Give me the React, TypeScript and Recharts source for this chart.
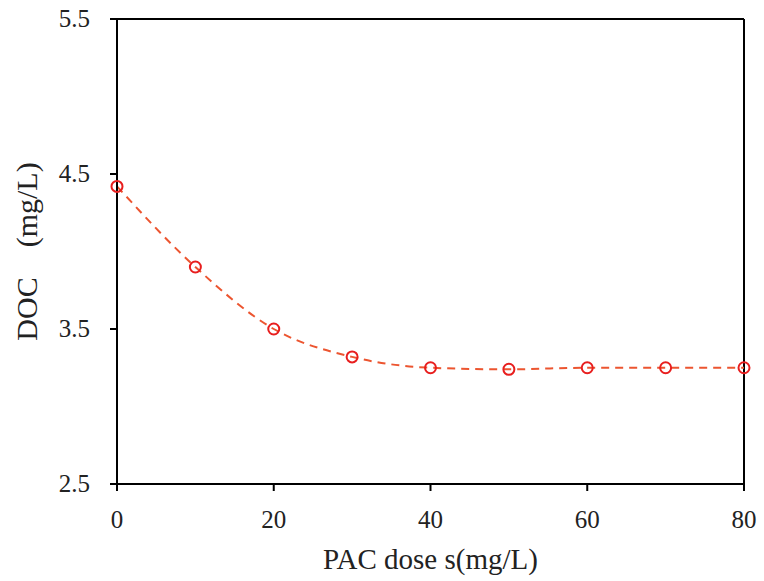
import React from 'react';
import { LineChart, Line, XAxis, YAxis, ReferenceLine } from 'recharts';

const doses = [0, 10, 20, 30, 40, 50, 60, 70, 80];
const docValues = [4.42, 3.9, 3.5, 3.32, 3.25, 3.24, 3.25, 3.25, 3.25];
const xTicks = [0, 20, 40, 60, 80];
const yTicks = [2.5, 3.5, 4.5, 5.5];

const data = doses.map((d, i) => ({ dose: d, doc: docValues[i] }));

const font = '"Liberation Serif", "Times New Roman", serif';
const axisStroke = { stroke: '#000', strokeWidth: 2 };

const XTick = (props: any) => (
  <text
    x={props.x}
    y={props.y}
    dy={37}
    textAnchor="middle"
    fontSize={25}
    fontFamily={font}
    fill="#222"
  >
    {props.payload.value}
  </text>
);

const YTick = (props: any) => (
  <text
    x={props.x}
    y={props.y}
    dx={-20}
    dy={8}
    textAnchor="end"
    fontSize={25}
    fontFamily={font}
    fill="#222"
  >
    {Number(props.payload.value).toFixed(1)}
  </text>
);

const YLabel = (props: any) => {
  const vb = props.viewBox;
  const cx = vb.x - 31;
  const cy = vb.y + vb.height / 2;
  return (
    <text
      x={cx}
      y={cy}
      transform={`rotate(-90, ${cx}, ${cy})`}
      textAnchor="middle"
      dominantBaseline="central"
      fontSize={30}
      fontFamily={font}
      fill="#222"
    >
      {'DOC\u2003(mg/L)'}
    </text>
  );
};

export default function App() {
  return (
    <div style={{ position: 'absolute', left: 0, top: 0, background: '#fff' }}>
      <LineChart
        width={764}
        height={581}
        data={data}
        margin={{ top: 19, right: 20, bottom: 57, left: 57 }}
      >
        <XAxis
          dataKey="dose"
          type="number"
          domain={[0, 80]}
          ticks={xTicks}
          axisLine={axisStroke}
          tickLine={axisStroke}
          tickSize={7}
          tickMargin={0}
          tick={<XTick />}
          height={40}
          label={{
            value: 'PAC dose s(mg/L)',
            position: 'bottom',
            offset: 24,
            style: { fontSize: 29, fontFamily: font, fill: '#222' },
          }}
        />
        <YAxis
          type="number"
          domain={[2.5, 5.5]}
          ticks={yTicks}
          axisLine={axisStroke}
          tickLine={axisStroke}
          tickSize={7}
          tickMargin={0}
          tick={<YTick />}
          width={60}
          label={<YLabel />}
        />
        <ReferenceLine y={5.5} stroke="#000" strokeWidth={2} />
        <ReferenceLine x={80} stroke="#000" strokeWidth={2} />
        <Line
          type="monotone"
          dataKey="doc"
          stroke="#EC5530"
          strokeWidth={2}
          strokeDasharray="8 6"
          dot={{ r: 5.5, stroke: '#E81E1E', strokeWidth: 2, fill: 'none', strokeDasharray: '' }}
          isAnimationActive={false}
        />
      </LineChart>
    </div>
  );
}
